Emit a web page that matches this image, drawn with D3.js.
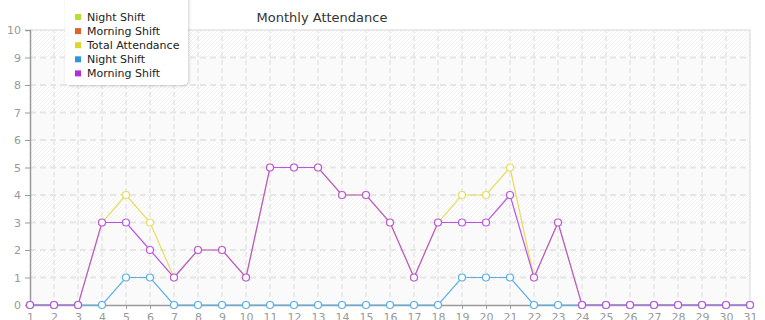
<!DOCTYPE html>
<html>
<head>
<meta charset="utf-8">
<script src="https://cdn.jsdelivr.net/npm/d3@7"></script>
<style>
  body { margin: 0; background: #fff; }
  text { font-family: "DejaVu Sans", sans-serif; }
</style>
</head>
<body>
<div id="chart"></div>
<script>
var width = 765;
var height = 320;
var margin = {top: 30, right: 15, bottom: 15, left: 30};

// days of the month
var days = d3.range(1, 32);
var yTicks = d3.range(0, 11);

// series, in drawing order (later ones on top); the first two have no points
var nightShiftA = [];
var morningShiftA = [];
var totalAttendance = [0,0,0,3,4,3,1,2,2,1,5,5,5,4,4,3,1,3,4,4,5,1,3,0,0,0,0,0,0,0,0];
var nightShift = [0,0,0,0,1,1,0,0,0,0,0,0,0,0,0,0,0,0,1,1,1,0,0,0,0,0,0,0,0,0,0];
var morningShift = [0,0,0,3,3,2,1,2,2,1,5,5,5,4,4,3,1,3,3,3,4,1,3,0,0,0,0,0,0,0,0];

var seriesNames = ["Night Shift", "Morning Shift", "Total Attendance", "Night Shift", "Morning Shift"];
var seriesColours = ["#b7e02c", "#e0622c", "#e0d42c", "#2c96e0", "#b42ce0"];
var lineColours = ["#c6e65a", "#e6845a", "#e8dc5c", "#5aafe6", "#bb55e0"];
var seriesValues = [nightShiftA, morningShiftA, totalAttendance, nightShift, morningShift];

var svg = d3.select("#chart").append("svg")
  .attr("width", width)
  .attr("height", height);

var defs = svg.append("defs");
var pat = defs.append("pattern")
  .attr("id", "hatch")
  .attr("patternUnits", "userSpaceOnUse")
  .attr("width", 4)
  .attr("height", 4);
pat.append("rect").attr("width", 4).attr("height", 4).attr("fill", "#fff");
pat.append("path")
  .attr("d", "M-1,1 l2,-2 M0,4 l4,-4 M3,5 l2,-2")
  .attr("stroke", "#efefef")
  .attr("stroke-width", 1);

var shadow = defs.append("filter").attr("id", "shadow")
  .attr("x", "-20%").attr("y", "-20%").attr("width", "140%").attr("height", "140%");
shadow.append("feDropShadow")
  .attr("dx", 1).attr("dy", 1).attr("stdDeviation", 1.5)
  .attr("flood-color", "#000").attr("flood-opacity", 0.18);

var x = d3.scaleLinear().domain([1, 31]).range([margin.left, width - margin.right]);
var y = d3.scaleLinear().domain([0, 10]).range([height - margin.bottom, margin.top]);

// alternating bands
var bands = svg.append("g");
bands.selectAll("rect")
  .data(d3.range(0, 10))
  .enter()
  .append("rect")
  .attr("x", x(1))
  .attr("width", x(31) - x(1))
  .attr("y", function(d) { return y(d + 1); })
  .attr("height", function(d) { return y(d) - y(d + 1); })
  .attr("fill", function(d) { return d % 2 == 1 ? "url(#hatch)" : "#fafafa"; });

// grid
var grid = svg.append("g");
grid.selectAll("line.h")
  .data(yTicks.slice(1, 10))
  .enter()
  .append("line")
  .attr("x1", x(1)).attr("x2", x(31))
  .attr("y1", function(d) { return y(d); })
  .attr("y2", function(d) { return y(d); })
  .attr("stroke", "#e6e6e6")
  .attr("stroke-width", 2)
  .attr("stroke-dasharray", "6,4");

grid.selectAll("line.v")
  .data(days.slice(1, 30))
  .enter()
  .append("line")
  .attr("y1", y(0)).attr("y2", y(10))
  .attr("x1", function(d) { return x(d); })
  .attr("x2", function(d) { return x(d); })
  .attr("stroke", "#e6e6e6")
  .attr("stroke-width", 1.5)
  .attr("stroke-dasharray", "5,3");

// frame top / right
svg.append("path")
  .attr("d", "M" + x(1) + "," + y(10) + "H" + x(31) + "V" + y(0))
  .attr("fill", "none")
  .attr("stroke", "#e3e3e3")
  .attr("stroke-width", 1.5);

// axes
var yAxis = svg.append("g")
  .attr("transform", "translate(" + x(1) + ",0)")
  .call(d3.axisLeft(y).tickValues(yTicks).tickSize(5).tickPadding(4));
var xAxis = svg.append("g")
  .attr("transform", "translate(0," + y(0) + ")")
  .call(d3.axisBottom(x).tickValues(days).tickSize(4).tickPadding(4).tickFormat(d3.format("d")));

[yAxis, xAxis].forEach(function(a) {
  a.select(".domain").attr("stroke", "#9a9a9a").attr("stroke-width", 1.5);
  a.selectAll(".tick line").attr("stroke", "#9a9a9a");
  a.selectAll(".tick text")
    .attr("fill", "#999")
    .style("font-family", "DejaVu Sans, sans-serif")
    .style("font-size", "11px");
});

// lines
var line = d3.line()
  .x(function(d, i) { return x(days[i]); })
  .y(function(d) { return y(d); });

seriesValues.forEach(function(vals, s) {
  var g = svg.append("g");
  g.append("path")
    .datum(vals)
    .attr("d", line)
    .attr("fill", "none")
    .attr("stroke", lineColours[s])
    .attr("stroke-width", 1.2);
  g.selectAll("circle")
    .data(vals)
    .enter()
    .append("circle")
    .attr("cx", function(d, i) { return x(days[i]); })
    .attr("cy", function(d) { return y(d); })
    .attr("r", 3.5)
    .attr("fill", "#fff")
    .attr("stroke", lineColours[s])
    .attr("stroke-width", 1.2);
});

// title
svg.append("text")
  .attr("x", 322)
  .attr("y", 22)
  .attr("text-anchor", "middle")
  .attr("fill", "#333")
  .style("font-size", "13px")
  .text("Monthly Attendance");

// legend
var legend = svg.append("g");
legend.append("rect")
  .attr("x", 65).attr("y", -10)
  .attr("width", 123).attr("height", 95)
  .attr("rx", 5)
  .attr("fill", "#fff")
  .attr("filter", "url(#shadow)");

var li = legend.selectAll("g.item")
  .data(d3.zip(seriesNames, seriesColours))
  .enter()
  .append("g")
  .attr("transform", function(d, i) { return "translate(0," + (17 + i * 14.1) + ")"; });

li.append("rect")
  .attr("x", 75).attr("y", -3)
  .attr("width", 6).attr("height", 6)
  .attr("fill", function(d) { return d[1]; });

li.append("text")
  .attr("x", 87)
  .attr("y", 4)
  .attr("fill", "#222")
  .style("font-size", "11px")
  .text(function(d) { return d[0]; });
</script>
</body>
</html>
